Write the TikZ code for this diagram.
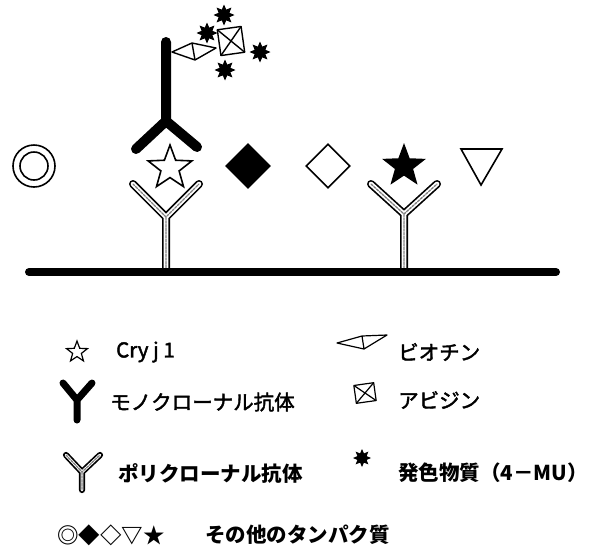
\documentclass[tikz,border=0pt]{standalone}
\usepackage{fontspec}
\setmainfont{Noto Sans CJK JP}
\newfontfamily\medfont{Noto Sans CJK JP}[FakeBold=2]
\usetikzlibrary{shapes.geometric}

\tikzset{
  lbl/.style={anchor=west, inner sep=0pt, font=\fontsize{20.5}{24}\selectfont\medfont},
  lblb/.style={lbl, font=\fontsize{20.5}{24}\selectfont\bfseries},
  monoab/.style={line width=#1, line cap=round, line join=miter},
  polyab/.style={line width=#1, draw=white, line cap=round,
    preaction={draw=black, line width=#1+3.4pt, line cap=round},
    postaction={draw=gray, line width=1.3pt, dash pattern=on 2.5pt off 1.2pt}},
  starburst/.style={star, star points=8, star point ratio=1.8, fill=black,
    inner sep=0pt, minimum size=#1},
  antigen/.style={inner sep=0pt, line width=1.6pt}
}

\begin{document}
\begin{tikzpicture}[x=1pt, y=-1pt]
\useasboundingbox (0,0) rectangle (593,552);

% solid phase
\coordinate (bl) at (29,272);
\coordinate (br) at (556,272);

% polyclonal antibodies on the plate
\coordinate (p1l) at (133,184); \coordinate (p1r) at (199,184);
\coordinate (p1j) at (166,217); \coordinate (p1b) at (166,270);
\coordinate (p2l) at (371,184); \coordinate (p2r) at (437,184);
\coordinate (p2j) at (404,214); \coordinate (p2b) at (404,270);
\draw[polyab=4.6pt] (p1l) -- (p1j) -- (p1r) (p1j) -- (p1b);
\draw[polyab=4.6pt] (p2l) -- (p2j) -- (p2r) (p2j) -- (p2b);
\draw[line width=8pt, line cap=round] (bl) -- (br);

% antigens
\node[circle, draw, antigen, minimum size=42pt] (ring) at (34,166) {};
\node[circle, draw, antigen, minimum size=28pt] (ringin) at (34,166) {};
\node[star, star points=5, star point ratio=2.4, draw, antigen, minimum size=46pt] (cry) at (170,168) {};
\node[diamond, fill=black, inner sep=0pt, minimum size=46pt] (dfill) at (248,166) {};
\node[diamond, draw, antigen, minimum size=44pt] (dopen) at (328,166) {};
\node[star, star points=5, star point ratio=2.4, fill=black, inner sep=0pt, minimum size=46pt] (sfill) at (404,166) {};
\coordinate (t1) at (461,149); \coordinate (t2) at (502,149); \coordinate (t3) at (481,185);
\draw[antigen, line join=miter] (t1) -- (t2) -- (t3) -- cycle;

% labelled monoclonal antibody
\coordinate (mt) at (166,42);  \coordinate (mj) at (166,121);
\coordinate (ml) at (136,149); \coordinate (mr) at (197,147);
\draw[monoab=10pt] (mt) -- (mj) (ml) -- (mj) -- (mr);

% biotin
\coordinate (bt1) at (172,52); \coordinate (bt2) at (192,43);
\coordinate (bt3) at (216,48); \coordinate (bt4) at (195,60);
\draw[line width=1.4pt, line join=round] (bt1) -- (bt2) -- (bt3) -- (bt4) -- cycle (bt2) -- (bt4);

% avidin
\begin{scope}[shift={(231,41)}, rotate=8, line width=1.4pt, line join=round]
  \draw (-12,-13) rectangle (12,13);
  \draw (-12,-13) -- (12,13) (12,-13) -- (-12,13);
\end{scope}

% 4-MU
\node[starburst=21pt] (mu1) at (224,15) {};
\node[starburst=21pt] (mu2) at (207,33) {};
\node[starburst=21pt] (mu3) at (260,52) {};
\node[starburst=21pt] (mu4) at (225,70) {};

% legend, left column
\node[star, star points=5, star point ratio=2.4, draw, inner sep=0pt, line width=1.2pt, minimum size=22pt] (kcry) at (77,352) {};
\node[lbl] (tcry) at (116,352) {Cry j 1};

\coordinate (kmt) at (77,420); \coordinate (kmj) at (77,400);
\coordinate (kml) at (63,383); \coordinate (kmr) at (92,383);
\draw[monoab=7pt] (kmt) -- (kmj) (kml) -- (kmj) -- (kmr);
\node[lbl] (tmono) at (110,402) {モノクローナル抗体};

\coordinate (kpl) at (66,455); \coordinate (kpr) at (100,455);
\coordinate (kpj) at (82,472); \coordinate (kpb) at (82,490);
\draw[polyab=2.8pt] (kpl) -- (kpj) -- (kpr) (kpj) -- (kpb);
\node[lblb] (tpoly) at (118,473) {ポリクローナル抗体};

\node[lblb, font=\fontsize{21.5}{24}\selectfont\bfseries] (ksym) at (57,535) {◎◆◇▽★};
\node[lblb] (tother) at (205,535) {その他のタンパク質};

% legend, right column
\coordinate (kb1) at (337,343); \coordinate (kb2) at (362,336);
\coordinate (kb3) at (387,335); \coordinate (kb4) at (364,349);
\draw[line width=1.2pt, line join=round] (kb1) -- (kb2) -- (kb3) -- (kb4) -- cycle (kb2) -- (kb4);
\node[lbl] (tbio) at (398,352) {ビオチン};

\begin{scope}[shift={(365,393)}, rotate=8, line width=1.2pt, line join=round]
  \draw (-10,-9) rectangle (10,9);
  \draw (-10,-9) -- (10,9) (10,-9) -- (-10,9);
\end{scope}
\node[lbl] (tavi) at (398,400) {アビジン};

\node[starburst=18pt] (kmu) at (362,458) {};
\node[lblb] (tmu) at (398,473) {発色物質（4－MU）};
\end{tikzpicture}
\end{document}
